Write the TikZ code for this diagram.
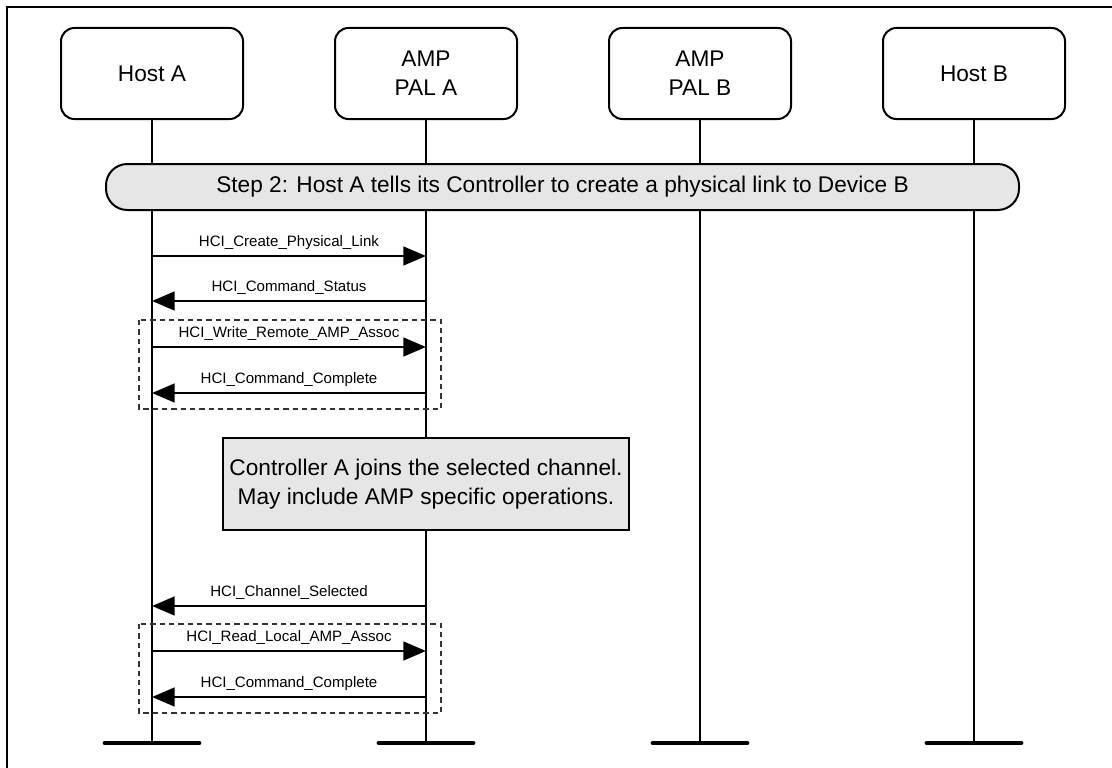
\documentclass[tikz,border=0pt]{standalone}
\usepackage{fontspec}
\setmainfont{Liberation Sans}
\usepackage{tikz}
\usetikzlibrary{arrows.meta,positioning}
\definecolor{notegray}{HTML}{E6E6E6}

\begin{document}
\begin{tikzpicture}[x=0.75pt,y=-0.75pt,
		actor/.style={draw, line width=1.5pt, rounded corners=10pt, minimum width=136.5pt, minimum height=68.25pt, align=center, font=\fontsize{17}{22}\selectfont},
		lifeline/.style={line width=1.6pt},
		endbar/.style={line width=3.6pt, line cap=round},
		phase/.style={draw, fill=notegray, line width=1.5pt, rounded corners=16pt, minimum width=684.75pt, minimum height=34.5pt, font=\fontsize{17}{22}\selectfont},
		note/.style={draw, fill=notegray, line width=1.5pt, minimum width=304.5pt, minimum height=69pt, align=center, font=\fontsize{17}{22}\selectfont},
		msg/.style={line width=2pt, -{Triangle[length=17pt,width=14pt]}},
		lbl/.style={above=3.7pt, inner sep=0pt, font=\fontsize{11.3}{13}\selectfont},
		group/.style={draw=black!80, line width=0.8pt, dash pattern=on 4pt off 3pt}]
			\useasboundingbox (0,0) rectangle (1112,767);
			\draw [line width=1.5pt] (7,7) rectangle (1140,800);
			
			\node [actor] (hostA) at (152,73.5) {Host A};
			\node [actor, right=67.5pt of hostA] (palA) {AMP\\PAL A};
			\node [actor, right=67.5pt of palA] (palB) {AMP\\PAL B};
			\node [actor, right=67.5pt of palB] (hostB) {Host B};
			
			\coordinate (bottom) at (0,743);
			\draw [lifeline] (hostA) -- (hostA |- bottom);
			\draw [lifeline] (palA) -- (palA |- bottom);
			\draw [lifeline] (palB) -- (palB |- bottom);
			\draw [lifeline] (hostB) -- (hostB |- bottom);
			
			\node [phase] (step) at (562.5,187) {Step 2: Host A tells its Controller to create a physical link to Device B};
			\node [note] (join) at (426,484) {Controller A joins the selected channel.\\May include AMP specific operations.};
			
			% message levels
			\coordinate (m1) at (0,256);
			\coordinate (m2) at (0,301);
			\coordinate (m3) at (0,347);
			\coordinate (m4) at (0,393);
			\coordinate (m5) at (0,606);
			\coordinate (m6) at (0,651);
			\coordinate (m7) at (0,697);
			
			\draw [msg] (hostA |- m1) -- node [lbl]{HCI\_Create\_Physical\_Link} (palA |- m1);
			\draw [msg] (palA |- m2) -- node [lbl]{HCI\_Command\_Status} (hostA |- m2);
			\draw [msg] (hostA |- m3) -- node [lbl]{HCI\_Write\_Remote\_AMP\_Assoc} (palA |- m3);
			\draw [msg] (palA |- m4) -- node [lbl]{HCI\_Command\_Complete} (hostA |- m4);
			\draw [msg] (palA |- m5) -- node [lbl]{HCI\_Channel\_Selected} (hostA |- m5);
			\draw [msg] (hostA |- m6) -- node [lbl]{HCI\_Read\_Local\_AMP\_Assoc} (palA |- m6);
			\draw [msg] (palA |- m7) -- node [lbl]{HCI\_Command\_Complete} (hostA |- m7);
			
			\draw [group] (139,320) rectangle (441,409);
			\draw [group] (139,624) rectangle (441,713);
			
			\draw [endbar] (hostA |- bottom) ++(-47,0) -- ++(94,0);
			\draw [endbar] (palA |- bottom) ++(-47,0) -- ++(94,0);
			\draw [endbar] (palB |- bottom) ++(-47,0) -- ++(94,0);
			\draw [endbar] (hostB |- bottom) ++(-47,0) -- ++(94,0);
		\end{tikzpicture}
\end{document}
